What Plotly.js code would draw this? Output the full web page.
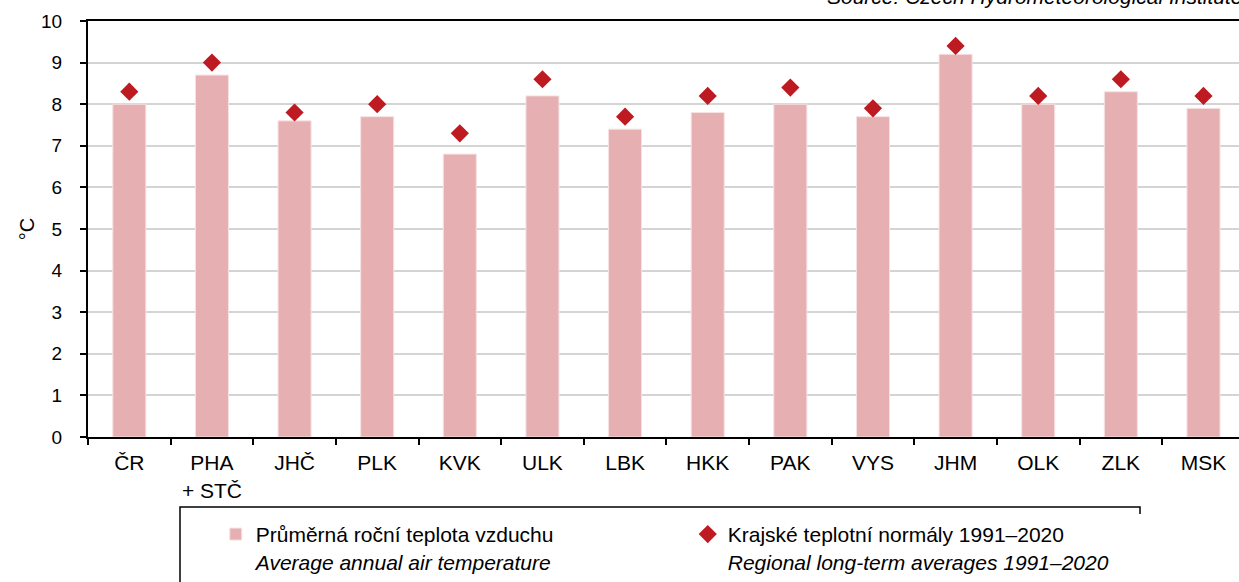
<!DOCTYPE html>
<html>
<head>
<meta charset="utf-8">
<script src="https://cdn.plot.ly/plotly-3.0.1.min.js"></script>
<style>
  html, body { margin: 0; padding: 0; overflow: hidden; background: #fff; }
  #chart { width: 1239px; height: 582px; }
</style>
</head>
<body>
<div id="chart"></div>
<script>
// Regiony
var regions = ['ČR', 'PHA<br>+ STČ', 'JHČ', 'PLK', 'KVK', 'ULK', 'LBK', 'HKK', 'PAK', 'VYS', 'JHM', 'OLK', 'ZLK', 'MSK'];
// Průměrná roční teplota vzduchu
var avgTemp = [8.0, 8.7, 7.6, 7.7, 6.8, 8.2, 7.4, 7.8, 8.0, 7.7, 9.2, 8.0, 8.3, 7.9];
// Krajské teplotní normály 1991–2020
var normals = [8.3, 9.0, 7.8, 8.0, 7.3, 8.6, 7.7, 8.2, 8.4, 7.9, 9.4, 8.2, 8.6, 8.2];
var yTicks = [0, 1, 2, 3, 4, 5, 6, 7, 8, 9, 10];

var font = 'Liberation Sans, Arial, sans-serif';

var data = [{
    x: regions,
    y: avgTemp,
    type: 'bar',
    name: 'Průměrná roční teplota vzduchu<br><i>Average annual air temperature</i>',
    width: 0.4,
    marker: { color: '#e6b0b3', line: { color: '#f6e2e3', width: 1 } }
}, {
    x: regions,
    y: normals,
    type: 'scatter',
    mode: 'markers',
    name: 'Krajské teplotní normály 1991–2020<br><i>Regional long-term averages 1991–2020</i>',
    marker: { symbol: 'diamond', size: 14, color: '#be1a22' }
}];

var layout = {
    width: 1239,
    height: 582,
    margin: { l: 88, r: 0, t: 21, b: 142 },
    paper_bgcolor: '#fff',
    plot_bgcolor: '#fff',
    font: { family: font, size: 21, color: '#000' },
    showlegend: true,
    xaxis: {
        type: 'category',
        range: [-0.5, 13.43],
        automargin: false,
        showline: true,
        linecolor: '#000',
        linewidth: 2,
        mirror: true,
        ticks: 'outside',
        tickson: 'boundaries',
        ticklen: 6,
        tickwidth: 1.5,
        tickcolor: '#000',
        showgrid: false,
        ticklabelstandoff: 6,
        tickfont: { family: font, size: 21 }
    },
    yaxis: {
        range: [0, 10],
        tickvals: yTicks,
        automargin: false,
        showline: true,
        linecolor: '#000',
        linewidth: 2,
        ticks: 'outside',
        ticklen: 6,
        tickwidth: 1.5,
        tickcolor: '#000',
        gridcolor: '#d4d4d4',
        gridwidth: 1.5,
        zeroline: false,
        ticklabelstandoff: 14,
        tickfont: { family: font, size: 19 },
        title: { text: '°C', font: { family: font, size: 20 }, standoff: 1 }
    },
    legend: {
        orientation: 'h',
        x: 0.111,
        xanchor: 'left',
        y: -0.185,
        yanchor: 'top',
        valign: 'top',
        entrywidth: 427,
        borderwidth: 0,
        font: { family: font, size: 21 }
    },
    shapes: [{
        type: 'rect',
        xref: 'paper', yref: 'paper',
        x0: (180 - 88) / 1151, x1: (1140 - 88) / 1151,
        y0: -0.168, y1: -0.4,
        line: { color: '#000', width: 1.5 }
    }],
    annotations: [{
        text: '<i>Source: Czech Hydrometeorological Institute</i>',
        xref: 'paper', yref: 'paper',
        x: 1, y: 1,
        xanchor: 'right', yanchor: 'bottom',
        xshift: 6, yshift: 11,
        showarrow: false,
        font: { family: font, size: 21 }
    }]
};

Plotly.newPlot('chart', data, layout, { displayModeBar: false });
</script>
</body>
</html>
